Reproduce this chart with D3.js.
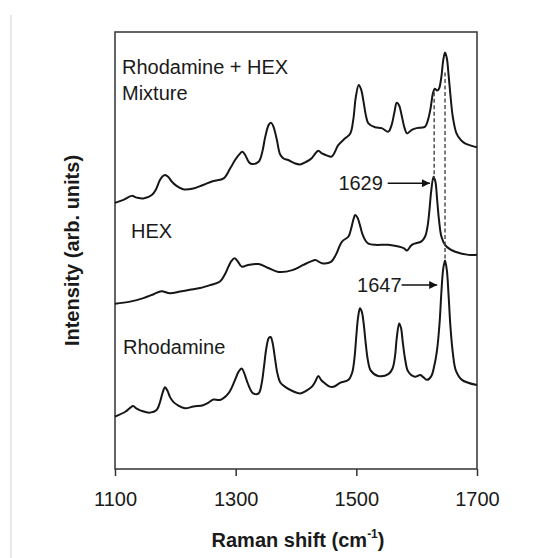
<!DOCTYPE html>
<html>
<head>
<meta charset="utf-8">
<script src="https://cdn.jsdelivr.net/npm/d3@7"></script>
<style>
  html, body { margin: 0; padding: 0; background: #fff; }
  svg { display: block; }
  text { font-family: "Liberation Sans", Arial, Helvetica, sans-serif; fill: #1a1a1a; }
</style>
</head>
<body>
<svg id="chart" width="536" height="558"></svg>
<script>
// ---- data (Raman shift in cm^-1, intensity in arbitrary units, offset per spectrum) ----
const xTicks = [1100, 1300, 1500, 1700];

const mixtureShift = [1100,1114,1128,1136,1147,1161,1168,1174,1179,1183,1188,1194,1202,1213,1230,1246,1263,1280,1291,1299,1306,1311,1316,1322,1327,1338,1344,1349,1355,1359,1363,1368,1374,1380,1387,1397,1407,1417,1426,1432,1437,1443,1448,1459,1470,1480,1490,1495,1499,1504,1508,1512,1516,1520,1531,1542,1553,1558,1563,1567,1571,1575,1580,1584,1592,1600,1607,1614,1619,1623,1627,1630,1634,1637,1641,1644,1647,1650,1653,1656,1660,1666,1673,1680,1690,1700];
const mixtureIntensity = [60.9,61.6,62.5,62.1,61.9,62.7,64.0,66.0,67.0,67.3,66.9,65.8,64.8,64.0,64.2,65.0,65.9,66.5,68.8,70.7,72.0,72.6,71.8,70.2,69.8,70.3,72.5,76.0,78.8,79.2,78.2,75.5,71.9,71.0,70.7,70.0,69.7,70.3,71.1,72.2,72.8,72.2,71.9,71.5,74.1,75.5,76.8,80.0,85.0,87.9,86.8,84.0,80.8,79.1,78.2,78.0,77.2,78.5,81.5,83.8,83.2,81.0,78.0,76.8,77.6,78.0,78.1,78.3,80.0,82.5,86.0,87.0,86.6,87.0,89.8,93.5,95.3,94.0,90.0,85.5,80.5,76.8,75.3,74.5,74.0,73.6];

const hexShift = [1100,1125,1147,1164,1177,1191,1208,1224,1241,1258,1274,1282,1288,1293,1298,1303,1310,1321,1338,1354,1371,1394,1412,1425,1432,1443,1458,1466,1476,1487,1491,1495,1498,1502,1506,1510,1515,1520,1531,1553,1570,1579,1584,1592,1608,1614,1618,1621,1624,1628,1631,1634,1637,1641,1647,1655,1664,1686,1700];
const hexIntensity = [37.8,38.3,39.1,40.0,40.7,40.2,40.6,41.0,41.4,42.1,42.9,44.5,46.3,47.6,48.2,47.6,46.3,46.7,46.9,46.0,45.1,45.5,46.7,47.5,47.8,47.1,47.4,49.0,52.0,53.2,54.8,57.0,58.1,57.5,55.8,53.8,52.3,51.6,51.3,51.3,50.9,50.5,50.0,51.3,52.1,53.2,55.5,59.0,63.5,66.9,65.8,61.5,57.0,53.2,51.3,50.3,49.7,49.0,49.0];

const rhodShift = [1100,1117,1125,1130,1136,1144,1158,1169,1175,1179,1183,1187,1191,1197,1204,1216,1230,1246,1255,1263,1274,1288,1299,1305,1310,1314,1319,1325,1329,1338,1343,1347,1351,1355,1358,1361,1365,1369,1374,1382,1395,1407,1418,1426,1432,1437,1442,1448,1455,1462,1473,1487,1493,1497,1500,1503,1506,1509,1512,1515,1519,1524,1536,1553,1560,1564,1567,1571,1574,1577,1581,1586,1597,1606,1612,1617,1624,1629,1634,1638,1641,1644,1647,1650,1653,1656,1660,1665,1675,1700];
const rhodIntensity = [12.0,13.1,14.0,14.4,13.8,13.3,12.9,13.5,15.5,17.5,18.7,17.9,16.5,15.3,14.6,13.9,14.3,14.6,15.2,15.9,15.8,17.3,20.4,22.3,23.0,22.0,20.0,18.0,17.3,17.3,19.5,23.5,27.8,30.0,30.2,29.0,25.5,22.0,19.8,18.8,17.8,17.3,18.0,18.8,20.0,21.3,20.3,19.6,18.9,18.8,19.7,20.4,22.0,25.5,30.5,34.8,36.8,36.0,33.5,29.5,25.0,22.5,21.3,21.7,23.0,25.7,30.0,33.3,32.3,29.0,25.0,22.3,21.1,21.5,20.9,20.4,21.2,23.5,27.5,33.5,40.5,45.8,47.7,45.5,39.5,32.5,26.5,22.5,20.4,19.2];

const seriesLabels = ["Rhodamine + HEX", "Mixture", "HEX", "Rhodamine"];
const peakLabels = ["1629", "1647"];
const peakShifts = [1629, 1647];

// ---- layout ----
const svg = d3.select("#chart");
const M = { left: 115, right: 477, top: 32, bottom: 469 };
const x = d3.scaleLinear().domain([1100, 1700]).range([M.left, M.right]);
const y = d3.scaleLinear().domain([0, 100]).range([M.bottom, M.top]);

// page edge line
svg.append("line").attr("x1", 11).attr("x2", 11).attr("y1", 15).attr("y2", 558)
  .attr("stroke", "#e2e2e2").attr("stroke-width", 1.5);

// arrowhead marker
svg.append("defs").append("marker")
  .attr("id", "arrow").attr("viewBox", "0 0 10 10").attr("refX", 10).attr("refY", 5)
  .attr("markerWidth", 10).attr("markerHeight", 8).attr("markerUnits", "userSpaceOnUse")
  .attr("orient", "auto")
  .append("path").attr("d", "M0,0 L10,5 L0,10 Z").attr("fill", "#111");

// x axis
const xAxis = d3.axisBottom(x).tickValues(xTicks).tickSize(7).tickPadding(16).tickFormat(d3.format("d"));
const gx = svg.append("g").attr("transform", `translate(0,${M.bottom})`).call(xAxis);
gx.select(".domain").remove();
gx.selectAll(".tick line").attr("stroke", "#333").attr("stroke-width", 1.5);
gx.selectAll(".tick text").attr("font-size", 20).attr("fill", "#1a1a1a")
  .style("font-family", '"Liberation Sans", Arial, sans-serif');

// frame
svg.append("rect").attr("x", M.left).attr("y", M.top)
  .attr("width", M.right - M.left).attr("height", M.bottom - M.top)
  .attr("fill", "none").attr("stroke", "#333").attr("stroke-width", 1.5);

// spectra
const line = d3.line().x(d => x(d[0])).y(d => y(d[1])).curve(d3.curveCatmullRom.alpha(0.5));
const series = [
  d3.zip(mixtureShift, mixtureIntensity),
  d3.zip(hexShift, hexIntensity),
  d3.zip(rhodShift, rhodIntensity)
];
svg.append("g").selectAll("path").data(series).join("path")
  .attr("d", line).attr("fill", "none").attr("stroke", "#161616")
  .attr("stroke-width", 2).attr("stroke-linejoin", "round");

// dashed guide lines
function valAt(xs, ys, v) {
  const i = xs.indexOf(v);
  if (i >= 0) return ys[i];
  return d3.scaleLinear().domain(xs).range(ys)(v);
}
const dash = svg.append("g").attr("stroke", "#444").attr("stroke-width", 1.4).attr("stroke-dasharray", "4,2.5");
dash.append("line").attr("x1", x(peakShifts[0])).attr("x2", x(peakShifts[0]))
  .attr("y1", y(valAt(mixtureShift, mixtureIntensity, 1629)) + 2)
  .attr("y2", y(valAt(hexShift, hexIntensity, 1628)) + 2);
dash.append("line").attr("x1", x(peakShifts[1])).attr("x2", x(peakShifts[1]))
  .attr("y1", y(valAt(mixtureShift, mixtureIntensity, 1647)) + 20)
  .attr("y2", y(valAt(rhodShift, rhodIntensity, 1647)) - 2);

// series labels
const lab = svg.append("g").attr("font-size", 20);
lab.append("text").attr("x", 122).attr("y", 74).text(seriesLabels[0]);
lab.append("text").attr("x", 122).attr("y", 100).text(seriesLabels[1]);
lab.append("text").attr("x", 131).attr("y", 238).text(seriesLabels[2]);
lab.append("text").attr("x", 123).attr("y", 354).text(seriesLabels[3]);

// peak annotations
const ann = svg.append("g");
ann.append("text").attr("x", x(1544)).attr("y", y(65.4) + 7).attr("text-anchor", "end")
  .attr("font-size", 20).text(peakLabels[0]);
ann.append("line").attr("x1", x(1552)).attr("x2", x(1622)).attr("y1", y(65.4)).attr("y2", y(65.4))
  .attr("stroke", "#111").attr("stroke-width", 1.6).attr("marker-end", "url(#arrow)");
ann.append("text").attr("x", x(1575)).attr("y", y(42.1) + 7).attr("text-anchor", "end")
  .attr("font-size", 20).text(peakLabels[1]);
ann.append("line").attr("x1", x(1575)).attr("x2", x(1634)).attr("y1", y(42.1)).attr("y2", y(42.1))
  .attr("stroke", "#111").attr("stroke-width", 1.6).attr("marker-end", "url(#arrow)");

// axis titles
const xt = svg.append("text").attr("x", (M.left + M.right) / 2 + 2).attr("y", 547)
  .attr("text-anchor", "middle").attr("font-size", 20).attr("font-weight", "bold");
xt.append("tspan").text("Raman shift (cm");
xt.append("tspan").attr("font-size", 12).attr("dy", -9).text("-1");
xt.append("tspan").attr("dy", 9).text(")");

svg.append("text").attr("transform", `translate(79,${(M.top + M.bottom) / 2}) rotate(-90)`)
  .attr("text-anchor", "middle").attr("font-size", 20).attr("font-weight", "bold")
  .text("Intensity (arb. units)");
</script>
</body>
</html>
